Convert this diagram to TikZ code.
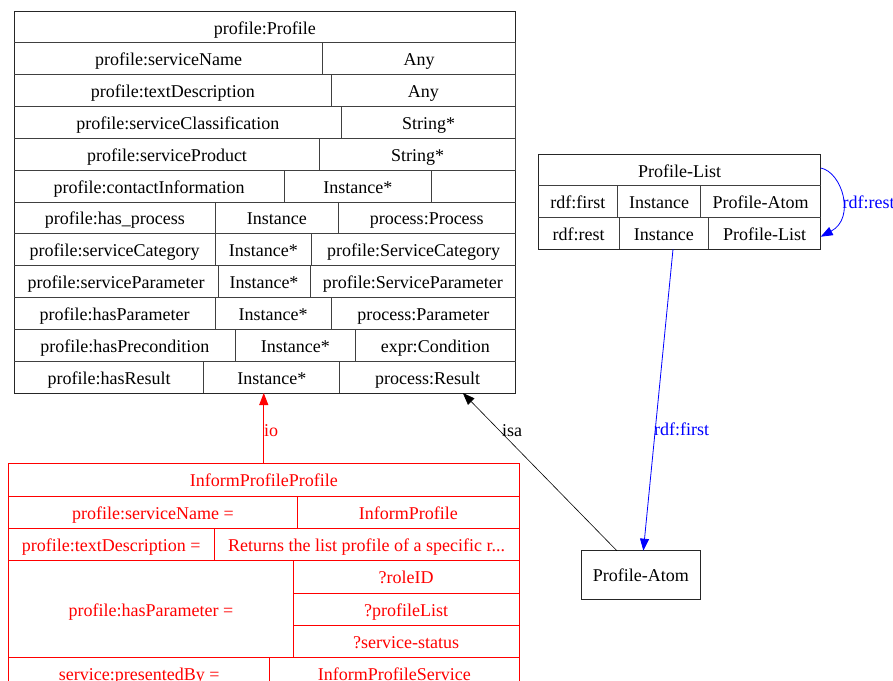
\documentclass[tikz,border=0pt]{standalone}
\usepackage{fontspec}
\setmainfont{Liberation Serif}
\usetikzlibrary{arrows.meta,positioning}

\tikzset{
	cell/.style={anchor=base,inner sep=0pt,font=\fontsize{18}{21}\selectfont},
	rcell/.style={cell,text=red},
	lbl/.style={cell,anchor=base west},
	tbl/.style={draw=black!85,line width=0.9pt,inner sep=0pt,outer sep=0pt},
	rtbl/.style={tbl,draw=red},
	tline/.style={draw=black!75,line width=0.9pt},
	rline/.style={draw=red,line width=0.9pt},
	edge/.style={-{Triangle[length=12pt,width=9pt]},line width=0.8pt},
}

\begin{document}
\begin{tikzpicture}[x=1pt,y=-1pt]
	\useasboundingbox (0,0) rectangle (893,680);
	\clip (0,0) rectangle (893,680);
	% profile:Profile
	\node[tbl,minimum width=501.3pt,minimum height=382pt] (profile) at (264.85,202) {};
	\node[cell] (p-title) at (264.85,34) {profile:Profile};
	\foreach \i/\a/\b/\ta/\tb/\tc in {
		1/322.9/515.5/profile:serviceName/Any/{},
		2/331.3/515.5/profile:textDescription/Any/{},
		3/341.5/515.5/profile:serviceClassification/String*/{},
		4/319.8/515.5/profile:serviceProduct/String*/{},
		5/284/431.7/profile:contactInformation/Instance*/{},
		6/215.7/338/profile:has\_process/Instance/process:Process,
		7/215/311.7/profile:serviceCategory/Instance*/profile:ServiceCategory,
		8/218/310/profile:serviceParameter/Instance*/profile:ServiceParameter,
		9/215/331.3/profile:hasParameter/Instance*/process:Parameter,
		10/235.6/355/profile:hasPrecondition/Instance*/expr:Condition,
		11/203.9/339.8/profile:hasResult/Instance*/process:Result}{
		\pgfmathsetmacro\rowy{11+31.83*\i}
		\draw[tline] (14.2,\rowy) -- (515.5,\rowy);
		\draw[tline] (\a,\rowy) -- ++(0,31.83) (\b,\rowy) -- ++(0,31.83);
		\node[cell] (pa-\i) at ({(14.2+\a)/2},\rowy+23) {\ta};
		\node[cell] (pb-\i) at ({(\a+\b)/2},\rowy+23) {\tb};
		\node[cell] (pc-\i) at ({(\b+515.5)/2},\rowy+23) {\tc};
	}
	% InformProfileProfile
	\node[rtbl,minimum width=510.5pt,minimum height=226.45pt] (inform) at (263.75,576.925) {};
	\draw[rline] (8.5,496.05) -- (519,496.05) (8.5,528.4) -- (519,528.4)
		(8.5,560.75) -- (519,560.75) (8.5,657.8) -- (519,657.8);
	\draw[rline] (297.5,496.05) -- (297.5,528.4) (214,528.4) -- (214,560.75)
		(293.4,560.75) -- (293.4,657.8) (269.8,657.8) -- (269.8,690.15);
	\draw[rline] (293.4,593.1) -- (519,593.1) (293.4,625.45) -- (519,625.45);
	\node[rcell] (i-title) at (263.75,486.7) {InformProfileProfile};
	\node[rcell] (i-name) at (153,519.05) {profile:serviceName =};
	\node[rcell] (i-namev) at (408.25,519.05) {InformProfile};
	\node[rcell] (i-desc) at (111.25,551.4) {profile:textDescription =};
	\node[rcell] (i-descv) at (366.5,551.4) {Returns the list profile of a specific r...};
	\node[rcell] (i-par) at (150.95,616.3) {profile:hasParameter =};
	\node[rcell] (i-par1) at (406.2,583.75) {?roleID};
	\node[rcell] (i-par2) at (406.2,616.1) {?profileList};
	\node[rcell] (i-par3) at (406.2,648.45) {?service-status};
	\node[rcell] (i-pres) at (139.15,680.8) {service:presentedBy =};
	\node[rcell] (i-presv) at (394.4,680.8) {InformProfileService};
	% Profile-List
	\node[tbl,minimum width=282.4pt,minimum height=95.3pt] (plist) at (679.5,201.65) {};
	\draw[tline] (538.3,185.7) -- (820.7,185.7) (538.3,217.7) -- (820.7,217.7);
	\draw[tline] (617.3,185.7) -- (617.3,217.7) (700.7,185.7) -- (700.7,217.7)
		(619,217.7) -- (619,249.3) (708.7,217.7) -- (708.7,249.3);
	\node[cell] (l-title) at (679.5,177) {Profile-List};
	\node[cell] (l-first) at (577.8,208.7) {rdf:first};
	\node[cell] (l-firstt) at (659,208.7) {Instance};
	\node[cell] (l-firstv) at (760.7,208.7) {Profile-Atom};
	\node[cell] (l-rest) at (578.65,240.5) {rdf:rest};
	\node[cell] (l-restt) at (663.85,240.5) {Instance};
	\node[cell] (l-restv) at (764.7,240.5) {Profile-List};
	% Profile-Atom
	\node[tbl,font=\fontsize{18}{21}\selectfont,minimum width=119.7pt,minimum height=48.3pt,
		text height=14pt,text depth=0pt] (atom) at (640.85,574.85) {Profile-Atom};
	% edges
	\draw[edge,red,line width=1pt] (inform.north) -- (inform.north |- profile.south);
	\node[lbl,text=red] (io) at (264,436) {io};
	\draw[edge,line width=0.6pt] ([xshift=-24pt]atom.north) -- ([xshift=198pt]profile.south);
	\node[lbl] (isa) at (502,436) {isa};
	\draw[edge,blue] ([xshift=-6.5pt]plist.south) -- ([xshift=2.5pt]atom.north);
	\node[lbl,text=blue] (rdf-first) at (654,435) {rdf:first};
	\draw[edge,blue] ([yshift=-14pt]plist.north east) .. controls (842,172) and (856,218)
		.. ([yshift=12.6pt]plist.south east);
	\node[lbl,text=blue] (rdf-rest) at (842.5,208) {rdf:rest};
\end{tikzpicture}
\end{document}
